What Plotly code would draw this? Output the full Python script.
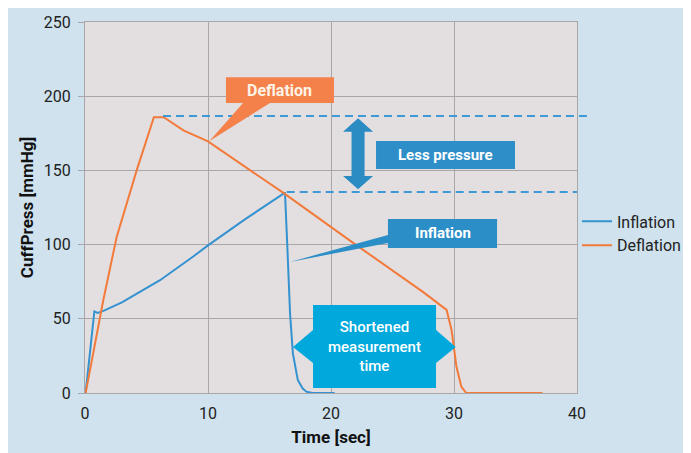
import plotly.graph_objects as go

# ---- data ----
inflation_time = [0.05, 0.76, 1.03, 1.5, 3.0, 6.1, 8.8, 10.0, 13.0, 16.26, 16.45, 16.67, 16.9, 17.3, 17.7, 18.0, 18.5, 20.3]
inflation_press = [0, 55, 54, 55.3, 61, 76, 92, 99.5, 117, 135, 98.6, 53.7, 26.7, 8.8, 3.0, 0.9, 0, 0]

deflation_time = [0.05, 1.49, 2.57, 4.2, 5.6, 6.4, 8.0, 10.0, 16.1, 22.0, 27.5, 29.4, 29.8, 30.0, 30.2, 30.6, 31.0, 37.2]
deflation_press = [0, 62.7, 105, 150, 185.8, 185.8, 177, 169.5, 135, 100, 68, 56, 42.5, 31, 17.7, 4.2, 0, 0]

x_ticks = [0, 10, 20, 30, 40]
y_ticks = [0, 50, 100, 150, 200, 250]

series_names = ["Inflation", "Deflation"]
BLUE = "#3592d0"
ORANGE = "#f27a3a"
GRID = "#a8a6a7"
FONT = "Roboto"

fig = go.Figure()
fig.add_trace(go.Scatter(x=inflation_time, y=inflation_press, mode="lines",
                         name=series_names[0], line=dict(color=BLUE, width=2)))
fig.add_trace(go.Scatter(x=deflation_time, y=deflation_press, mode="lines",
                         name=series_names[1], line=dict(color=ORANGE, width=2)))

shapes = []
# dashed reference lines
shapes.append(dict(type="line", xref="paper", yref="y", x0=0.1585, x1=1.0203, y0=186.6, y1=186.6,
                   line=dict(color="#3d9ad6", width=2, dash="8px,5px")))
shapes.append(dict(type="line", xref="x", yref="y", x0=16.4, x1=40.05, y0=135.5, y1=135.5,
                   line=dict(color="#3d9ad6", width=2, dash="8px,5px")))

# Deflation callout
shapes.append(dict(type="path", xref="x", yref="y",
                   path="M 11.46,212.7 L 20.24,212.7 L 20.24,195.4 L 15.04,195.4 L 10.1,169.6 L 12.85,195.4 L 11.46,195.4 Z",
                   fillcolor="#f5814a", line=dict(width=0)))
# double arrow
shapes.append(dict(type="path", xref="x", yref="y",
                   path=("M 22.2,185.1 L 23.42,176.1 L 22.73,176.1 L 22.73,146.2 L 23.42,146.2 L 22.2,137.3 "
                         "L 20.98,146.2 L 21.67,146.2 L 21.67,176.1 L 20.98,176.1 Z"),
                   fillcolor="#2b8bc3", line=dict(width=0)))
# Less pressure box
shapes.append(dict(type="rect", xref="x", yref="y", x0=23.66, x1=34.96, y0=150.9, y1=169.8,
                   fillcolor="#2d8ec8", line=dict(width=0)))
# Inflation callout
shapes.append(dict(type="path", xref="x", yref="y",
                   path="M 24.63,117.3 L 33.5,117.3 L 33.5,97.7 L 24.63,97.7 L 24.63,101.1 L 16.67,88.3 L 24.63,106.5 Z",
                   fillcolor="#2b8ec6", line=dict(width=0)))
# Shortened measurement time callout
shapes.append(dict(type="path", xref="x", yref="y",
                   path=("M 18.54,59.3 L 28.54,59.3 L 28.54,42.5 L 30.14,31.0 L 28.54,20.2 L 28.54,3.4 "
                         "L 18.54,3.4 L 18.54,20.2 L 16.91,31.0 L 18.54,42.5 Z"),
                   fillcolor="#00a8dc", line=dict(width=0)))

annotations = [
    dict(x=15.85, y=204, xref="x", yref="y", text="Deflation", showarrow=False,
         font=dict(family=FONT, size=16, color="#fdf3e6", weight="bold")),
    dict(x=29.3, y=160.4, xref="x", yref="y", text="Less pressure", showarrow=False,
         font=dict(family=FONT, size=15, color="white", weight="bold")),
    dict(x=29.07, y=107.5, xref="x", yref="y", text="Inflation", showarrow=False,
         font=dict(family=FONT, size=15, color="white", weight="bold")),
    dict(x=23.54, y=31.4, xref="x", yref="y", text="Shortened<br>measurement<br>time", showarrow=False,
         font=dict(family=FONT, size=15, color="white", weight=500)),
]

fig.update_layout(
    width=683, height=445,
    margin=dict(l=77, r=114, t=14, b=60, autoexpand=False),
    paper_bgcolor="#cfe2ee",
    plot_bgcolor="#e3dfe0",
    font=dict(family=FONT, size=16, color="#222222"),
    shapes=shapes,
    annotations=annotations,
    showlegend=True,
    legend=dict(x=1.0, xanchor="left", y=0.43, yanchor="middle",
                bgcolor="rgba(0,0,0,0)", font=dict(family=FONT, size=16, color="#222222")),
    xaxis=dict(range=[0, 40], tickvals=x_ticks, showgrid=True, gridcolor=GRID, gridwidth=1,
               showline=True, linecolor=GRID, mirror=True, zeroline=False, ticks="",
               ticklabelstandoff=6,
               title=dict(text="<b>Time [sec]</b>", font=dict(family=FONT, size=17, color="#111111"), standoff=8)),
    yaxis=dict(range=[0, 250], tickvals=y_ticks, showgrid=True, gridcolor=GRID, gridwidth=1,
               showline=True, linecolor=GRID, mirror=True, zeroline=False, ticks="outside",
               ticklen=6, tickcolor=GRID, ticklabelstandoff=4,
               title=dict(text="<b>CuffPress [mmHg]</b>", font=dict(family=FONT, size=17, color="#111111"), standoff=5)),
)

fig.write_html("out.html")
